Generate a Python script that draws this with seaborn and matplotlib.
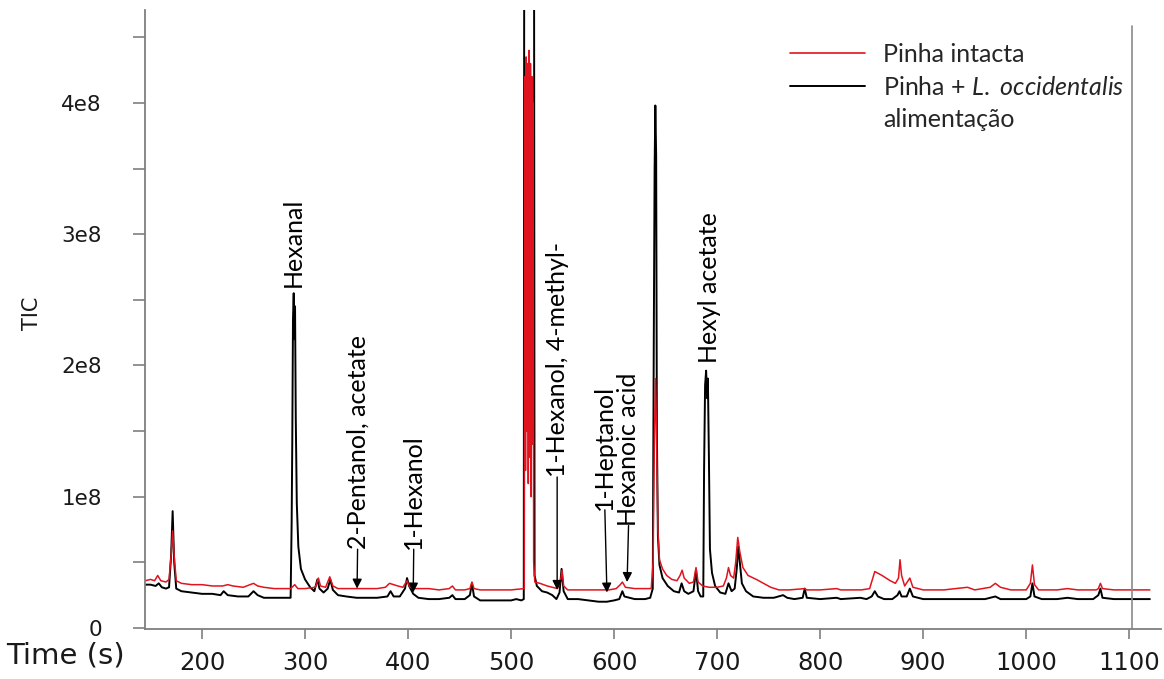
import numpy as np
import matplotlib
matplotlib.use("Agg")
import matplotlib.pyplot as plt
from matplotlib.lines import Line2D
from matplotlib.ticker import MultipleLocator, FuncFormatter
import seaborn as sns

# Time axis (s) and TIC values (x 1e8)
time_fed = [145, 150, 155, 158, 161, 165, 168, 170, 171.5, 173, 175, 180, 190, 200, 210,
            218, 221, 225, 235, 245, 250, 254, 260, 270, 280, 286, 287, 287.6, 288.3, 289,
            289.7, 290.3, 291, 292, 293.5, 296, 300, 305, 309, 312, 314, 318, 322, 324.5, 327,
            332, 340, 350, 360, 370, 380, 383, 386, 392, 397, 399, 401, 405, 410, 420,
            430, 440, 443, 446, 455, 460, 462, 464, 470, 480, 490, 500, 505, 510, 512.3,
            512.8, 522.2, 522.8, 525, 530, 535, 540, 544, 547, 549, 551, 555, 565, 575, 585,
            593, 600, 605, 608, 610, 615, 620, 625, 630, 635, 637.5, 638.5, 639.3, 640, 640.8,
            641.5, 642.5, 644, 647, 652, 658, 663, 665.5, 668, 672, 677, 679.5, 681.5, 684, 686.5,
            687.3, 688.3, 689.3, 690.3, 691, 692, 693, 695, 698, 703, 708, 711, 714, 717, 719,
            720.5, 722, 724, 728, 735, 745, 755, 764, 768, 775, 783, 785, 787, 800, 816,
            820, 839, 845, 850, 853, 856, 862, 870, 875, 877, 879, 884, 887, 890, 900,
            920, 943, 960, 970, 975, 990, 1000, 1004, 1006, 1008, 1015, 1030, 1040, 1050, 1065,
            1070, 1072, 1074, 1085, 1100, 1110, 1120]
tic_fed = [0.33, 0.33, 0.32, 0.34, 0.31, 0.30, 0.31, 0.55, 0.89, 0.50, 0.30, 0.28, 0.27, 0.26, 0.26,
           0.25, 0.28, 0.25, 0.24, 0.24, 0.28, 0.25, 0.23, 0.23, 0.23, 0.23, 0.80, 1.40, 2.35, 2.55,
           2.20, 2.45, 1.60, 0.95, 0.62, 0.45, 0.37, 0.31, 0.28, 0.37, 0.30, 0.27, 0.30, 0.37, 0.29,
           0.25, 0.24, 0.23, 0.23, 0.23, 0.24, 0.28, 0.24, 0.24, 0.30, 0.38, 0.32, 0.26, 0.23, 0.22,
           0.22, 0.23, 0.25, 0.22, 0.22, 0.25, 0.34, 0.24, 0.21, 0.21, 0.21, 0.21, 0.22, 0.21, 0.22,
           6.00, 6.00, 0.40, 0.32, 0.28, 0.27, 0.25, 0.22, 0.27, 0.45, 0.28, 0.22, 0.22, 0.21, 0.20,
           0.20, 0.21, 0.22, 0.28, 0.24, 0.23, 0.22, 0.22, 0.22, 0.23, 0.30, 2.20, 3.50, 3.98, 3.60,
           1.50, 0.70, 0.48, 0.38, 0.32, 0.28, 0.27, 0.34, 0.28, 0.26, 0.28, 0.44, 0.28, 0.24, 0.24,
           1.20, 1.85, 1.96, 1.75, 1.90, 1.30, 0.60, 0.42, 0.32, 0.27, 0.26, 0.34, 0.28, 0.30, 0.45,
           0.62, 0.50, 0.34, 0.28, 0.24, 0.23, 0.23, 0.25, 0.23, 0.22, 0.23, 0.30, 0.23, 0.22, 0.23,
           0.22, 0.23, 0.22, 0.24, 0.28, 0.24, 0.22, 0.22, 0.25, 0.28, 0.24, 0.24, 0.30, 0.24, 0.22,
           0.22, 0.22, 0.22, 0.24, 0.22, 0.22, 0.22, 0.24, 0.34, 0.24, 0.22, 0.22, 0.23, 0.22, 0.22,
           0.25, 0.30, 0.23, 0.22, 0.22, 0.22, 0.22]

time_intact = [145, 150, 154, 157, 160, 165, 168, 170, 171.5, 173, 175, 180, 190, 200, 210,
               220, 225, 230, 240, 250, 254, 260, 270, 280, 286, 290, 293, 300, 310, 313,
               315, 320, 324, 327, 332, 340, 350, 360, 370, 378, 382, 390, 395, 399, 402,
               407, 420, 430, 440, 443, 446, 455, 460, 462, 464, 470, 480, 500, 512.8,
               513.3, 514, 514.6, 515.3, 516, 516.7, 517.4, 518.1, 518.8, 519.5, 520.2, 520.8, 521.3,
               521.9, 523, 528, 535, 540, 545, 548, 549.5, 551, 555, 570,
               585, 595, 602, 606, 608, 611, 620, 630, 636, 637.8, 639.2, 640.2, 641.3, 642.5, 644,
               647, 651, 656, 661, 664, 666, 668, 673, 677, 679.5, 681.5, 686, 692, 700, 706,
               709, 711, 713, 716, 718, 720, 722, 725, 730, 738, 745, 752, 760, 770, 785,
               787, 800, 816, 820, 840, 848, 853, 860, 868, 873, 876, 877.5, 879, 882, 887,
               890, 900, 920, 943, 950, 965, 970, 975, 985, 1000, 1004, 1006, 1008, 1012, 1030,
               1040, 1050, 1068, 1070, 1072, 1074, 1085, 1100, 1110, 1120]
tic_intact = [0.36, 0.37, 0.36, 0.40, 0.36, 0.35, 0.37, 0.55, 0.74, 0.55, 0.36, 0.34, 0.33, 0.33, 0.32,
              0.32, 0.33, 0.32, 0.31, 0.34, 0.32, 0.31, 0.30, 0.30, 0.30, 0.33, 0.30, 0.30, 0.31, 0.38,
              0.32, 0.31, 0.39, 0.32, 0.30, 0.30, 0.30, 0.30, 0.30, 0.31, 0.34, 0.32, 0.31, 0.36, 0.31,
              0.30, 0.30, 0.29, 0.30, 0.32, 0.29, 0.29, 0.30, 0.35, 0.30, 0.29, 0.29, 0.29, 0.30,
              4.20, 1.20, 4.35, 1.50, 4.30, 1.10, 4.40, 1.30, 4.30, 1.00, 4.20, 1.40, 4.00,
              0.50, 0.35, 0.34, 0.32, 0.31, 0.30, 0.36, 0.44, 0.32, 0.29, 0.29,
              0.29, 0.29, 0.30, 0.33, 0.35, 0.31, 0.30, 0.30, 0.30, 0.50, 1.50, 1.90, 1.40, 0.75, 0.52,
              0.45, 0.40, 0.37, 0.36, 0.40, 0.44, 0.38, 0.34, 0.35, 0.46, 0.35, 0.32, 0.31, 0.31, 0.32,
              0.38, 0.46, 0.40, 0.38, 0.50, 0.69, 0.58, 0.46, 0.40, 0.37, 0.34, 0.31, 0.29, 0.29, 0.30,
              0.29, 0.29, 0.30, 0.29, 0.29, 0.30, 0.43, 0.40, 0.36, 0.34, 0.38, 0.52, 0.40, 0.32, 0.38,
              0.31, 0.29, 0.29, 0.31, 0.29, 0.31, 0.34, 0.31, 0.29, 0.29, 0.34, 0.48, 0.33, 0.29, 0.29,
              0.30, 0.29, 0.29, 0.30, 0.34, 0.30, 0.29, 0.29, 0.29, 0.29]

# compound labels: label x, label bottom, arrow tip x / y (None -> no arrow)
compounds = ["Hexanal", "2-Pentanol, acetate", "1-Hexanol", "1-Hexanol, 4-methyl-",
             "1-Heptanol", "Hexanoic acid", "Hexyl acetate"]
label_time = [289, 351, 405.5, 544.7, 591, 614, 693]
label_base = [2.60, 0.60, 0.60, 1.15, 0.90, 0.78, 2.02]
arrow_time = [None, 350.5, 405, 544.7, 593, 612.6, None]
arrow_tip = [None, 0.30, 0.27, 0.29, 0.27, 0.35, None]

sns.set_style("white")
plt.rcParams["font.family"] = ["DejaVu Sans"]
plt.rcParams["mathtext.fontset"] = "custom"
plt.rcParams["mathtext.it"] = "Lato:italic"
plt.rcParams["mathtext.rm"] = "Lato"

fig = plt.figure(figsize=(11.64, 6.79), dpi=100)
ax = fig.add_axes([0.1246, 0.0736, 0.873, 0.9116])

sns.lineplot(x=np.array(time_fed), y=np.array(tic_fed) * 1e8, ax=ax, color="black",
             lw=1.4, estimator=None, sort=False)
sns.lineplot(x=np.array(time_intact), y=np.array(tic_intact) * 1e8, ax=ax, color="#e0141e",
             lw=1.1, estimator=None, sort=False)

ax.set_xlim(144.7, 1131)
ax.set_ylim(-0.008e8, 4.707e8)

ax.axvline(1103, ymax=0.975, color="#8a8a8a", lw=1.2)

# annotations
for name, lx, lb, ax_t, ay in zip(compounds, label_time, label_base, arrow_time, arrow_tip):
    ax.text(lx, lb * 1e8, name, rotation=90, ha="center", va="bottom",
            fontsize=18, family="Lato", color="black")
    if ax_t is not None:
        ax.annotate("", xy=(ax_t, ay * 1e8), xytext=(lx, lb * 1e8),
                    arrowprops=dict(arrowstyle="-|>", color="black", lw=1.0,
                                    mutation_scale=14, shrinkA=0, shrinkB=0))

# axes styling
sns.despine(ax=ax)
for side in ["left", "bottom"]:
    ax.spines[side].set_color("#7f7f7f")
    ax.spines[side].set_linewidth(1.3)

ax.set_xticks(range(200, 1101, 100))
ax.yaxis.set_major_locator(MultipleLocator(0.5e8))
ax.yaxis.set_major_formatter(FuncFormatter(
    lambda v, p: "0" if abs(v) < 1 else (f"{int(round(v / 1e8))}e8" if abs(v / 1e8 - round(v / 1e8)) < 1e-6 else "")))
ax.tick_params(axis="x", bottom=True, direction="out", length=7, width=1.2, color="#7f7f7f",
               labelsize=17.5, pad=9, labelcolor="#1a1a1a")
ax.tick_params(axis="y", left=True, direction="out", length=9, width=1.2, color="#7f7f7f",
               labelsize=15.5, pad=22, labelcolor="#1a1a1a")

ax.set_ylabel("TIC", fontsize=15, color="#1a1a1a")
ax.yaxis.set_label_coords(-0.101, 0.51)
ax.set_xlabel("Time (s)", fontsize=21, color="#1a1a1a")
ax.xaxis.set_label_coords(-0.078, -0.02)
ax.xaxis.label.set_va("top")

# legend
handles = [Line2D([], [], color="#e0141e", lw=1.2),
           Line2D([], [], color="black", lw=1.4),
           Line2D([], [], color="none")]
labels = ["Pinha intacta", r"Pinha + $\mathit{L.\ occidentalis}$", "alimentação"]
leg = ax.legend(handles, labels, loc="upper left", bbox_to_anchor=(0.635, 0.947),
                frameon=False, handlelength=3.0, handletextpad=0.7, labelspacing=0.39,
                borderpad=0, borderaxespad=0, prop={"family": "Lato", "size": 18})

fig.savefig("out.png", dpi=100)
